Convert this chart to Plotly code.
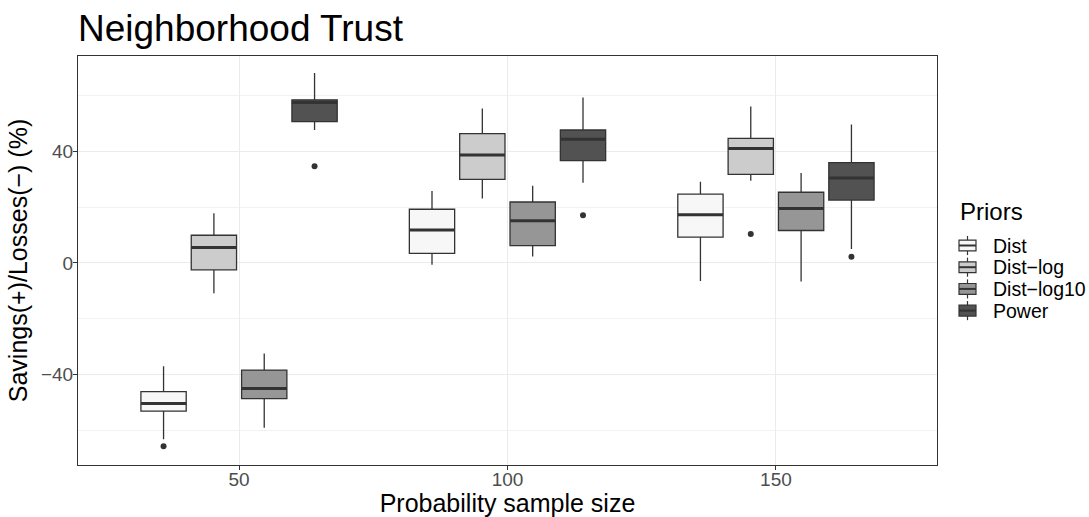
import plotly.graph_objects as go

# Probability sample sizes (discrete groups on the x axis)
sizes = ["50", "100", "150"]
priors = ["Dist", "Dist\u2212log", "Dist\u2212log10", "Power"]
fills = ["#F7F7F7", "#CCCCCC", "#969696", "#525252"]

# Box statistics per prior, one value per sample size (50, 100, 150)
lower = {
    "Dist": [-63.2, -0.7, -6.5],
    "Dist\u2212log": [-10.9, 23.1, 29.4],
    "Dist\u2212log10": [-59.1, 2.3, -6.7],
    "Power": [47.6, 28.7, 5.0],
}
q1 = {
    "Dist": [-53.1, 3.4, 9.2],
    "Dist\u2212log": [-2.5, 29.9, 31.7],
    "Dist\u2212log10": [-48.6, 6.2, 11.6],
    "Power": [50.6, 36.6, 22.5],
}
median = {
    "Dist": [-50.4, 11.8, 17.2],
    "Dist\u2212log": [5.5, 38.6, 41.0],
    "Dist\u2212log10": [-45.0, 15.1, 19.5],
    "Power": [57.4, 44.3, 30.4],
}
q3 = {
    "Dist": [-46.1, 19.2, 24.6],
    "Dist\u2212log": [9.9, 46.3, 44.6],
    "Dist\u2212log10": [-38.4, 21.8, 25.3],
    "Power": [58.4, 47.6, 35.9],
}
upper = {
    "Dist": [-37.0, 25.7, 29.1],
    "Dist\u2212log": [17.8, 55.3, 56.0],
    "Dist\u2212log10": [-32.5, 27.6, 32.2],
    "Power": [68.0, 59.2, 49.6],
}
# Outlying observations: (sample-size index, value)
outliers = {
    "Dist": [(0, -65.7)],
    "Dist\u2212log": [(2, 10.3)],
    "Dist\u2212log10": [],
    "Power": [(0, 34.6), (1, 17.1), (2, 2.2)],
}

y_major = [-40, 0, 40]
y_minor = [-60, -20, 20, 60]

W, H = 1089, 517
M_L, M_R, M_T, M_B = 78, 152, 56, 52

# dodge layout: 0.75 of each category split among the priors, boxes at 90 %
dodge_total = 0.75
slot = dodge_total / len(priors)
box_w = slot * 0.9
edge = "#333333"
font = "Liberation Sans, Arial, sans-serif"

fig = go.Figure()
for k, (p, col) in enumerate(zip(priors, fills)):
    offset = -dodge_total / 2 + slot * (k + 0.5)
    xs = [i + 1 + offset for i in range(len(sizes))]
    fig.add_trace(go.Box(
        name=p, x=xs, q1=q1[p], median=median[p], q3=q3[p],
        lowerfence=lower[p], upperfence=upper[p],
        width=box_w, whiskerwidth=0, boxpoints=False,
        fillcolor=col, line=dict(color=edge, width=1.3),
        hoverinfo="skip", showlegend=False,
    ))
    # thicker median bar
    mx, my = [], []
    for x, m in zip(xs, median[p]):
        mx += [x - box_w / 2, x + box_w / 2, None]
        my += [m, m, None]
    fig.add_trace(go.Scatter(x=mx, y=my, mode="lines", showlegend=False,
                             line=dict(color=edge, width=3), hoverinfo="skip"))
    if outliers[p]:
        fig.add_trace(go.Scatter(
            x=[i + 1 + offset for i, _ in outliers[p]],
            y=[v for _, v in outliers[p]],
            mode="markers", showlegend=False,
            marker=dict(color=edge, size=6), hoverinfo="skip"))


# --- legend drawn beside the panel (pixel layout -> paper coordinates) ---
plot_w = W - M_L - M_R
plot_h = H - M_T - M_B


def px_x(px):
    return (px - M_L) / plot_w


def px_y(py):
    return (H - M_B - py) / plot_h


key_h = 21.7
key_cx = 967.5
key_half_w = 8.5
first_center = 245.5
shapes, annotations = [], []
annotations.append(dict(text="Priors", x=px_x(958), y=px_y(211), xref="paper", yref="paper",
                        xanchor="left", yanchor="middle", showarrow=False,
                        font=dict(size=24, color="black", family=font)))
for k, (p, col) in enumerate(zip(priors, fills)):
    cy = first_center + k * key_h
    shapes.append(dict(type="line", xref="paper", yref="paper",
                       x0=px_x(key_cx), x1=px_x(key_cx),
                       y0=px_y(cy - 0.44 * key_h), y1=px_y(cy + 0.44 * key_h),
                       line=dict(color=edge, width=1.2)))
    shapes.append(dict(type="rect", xref="paper", yref="paper",
                       x0=px_x(key_cx - key_half_w), x1=px_x(key_cx + key_half_w),
                       y0=px_y(cy - 0.25 * key_h), y1=px_y(cy + 0.25 * key_h),
                       fillcolor=col, line=dict(color=edge, width=1.2)))
    shapes.append(dict(type="line", xref="paper", yref="paper",
                       x0=px_x(key_cx - key_half_w), x1=px_x(key_cx + key_half_w),
                       y0=px_y(cy), y1=px_y(cy),
                       line=dict(color=edge, width=2)))
    annotations.append(dict(text=p, x=px_x(991), y=px_y(cy), xref="paper", yref="paper",
                            xanchor="left", yanchor="middle", showarrow=False,
                            font=dict(size=19.5, color="black", family=font)))

fig.update_layout(
    width=W, height=H,
    margin=dict(l=M_L, r=M_R, t=M_T, b=M_B, autoexpand=False),
    paper_bgcolor="white", plot_bgcolor="white",
    font=dict(family=font, color="black"),
    title=dict(text="Neighborhood Trust", font=dict(size=37, color="black"),
               x=78 / W, xanchor="left", y=1 - 41 / H, yanchor="bottom",
               xref="container", yref="container", pad=dict(l=0, b=0)),
    showlegend=False,
    shapes=shapes,
    annotations=annotations,
)
fig.update_xaxes(
    range=[0.4, 3.6], tickvals=[1, 2, 3], ticktext=sizes,
    showgrid=True, gridcolor="#EBEBEB", gridwidth=1, zeroline=False,
    showline=True, mirror=True, linecolor=edge, linewidth=1,
    ticks="outside", ticklen=4, tickcolor=edge, automargin=False,
    ticklabelstandoff=-7,
    tickfont=dict(size=19, color="#4D4D4D"),
    title=dict(text="Probability sample size", font=dict(size=25), standoff=11),
)
fig.update_yaxes(
    range=[-72.4, 74.1], tickvals=y_major,
    showgrid=True, gridcolor="#EBEBEB", gridwidth=1, zeroline=False,
    minor=dict(tickvals=y_minor, showgrid=True, gridcolor="#F2F2F2", gridwidth=0.6, ticks=""),
    showline=True, mirror=True, linecolor=edge, linewidth=1,
    ticks="outside", ticklen=4, tickcolor=edge, automargin=False,
    ticklabelstandoff=-4,
    tickfont=dict(size=19, color="#4D4D4D"),
    title=dict(text="Savings(+)/Losses(\u2212) (%)", font=dict(size=25), standoff=6),
)

fig.write_html("out.html")
